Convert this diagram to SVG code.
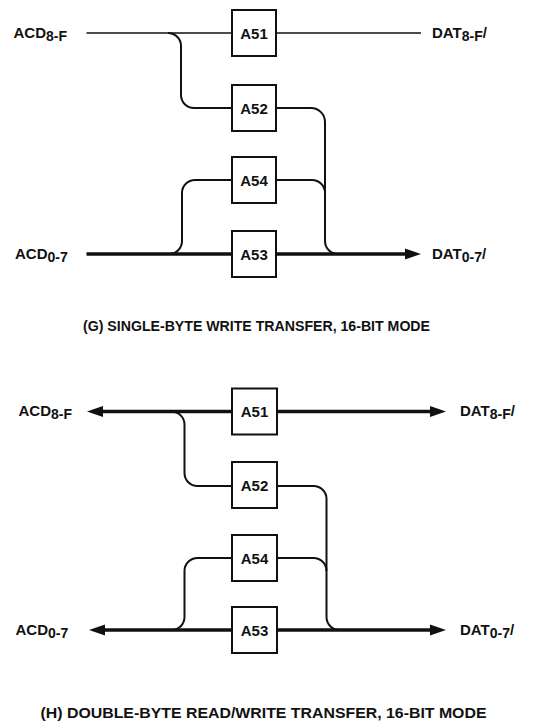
<svg xmlns="http://www.w3.org/2000/svg" width="533" height="722" viewBox="0 0 533 722">
<style>
.bg{fill:#fff}
.box rect{fill:#fff;stroke:#111;stroke-width:2}
.box text,.lbl{font-family:"Liberation Sans",Arial,sans-serif;font-weight:bold;fill:#111}
.box text{font-size:15px;text-anchor:middle}
.lbl{font-size:15px}
.sub{font-size:14px}
.cap{font-family:"Liberation Sans",Arial,sans-serif;font-weight:bold;fill:#111}
.w{fill:none;stroke:#111;stroke-width:2}
.thin{fill:none;stroke:#111;stroke-width:1.6}
.bus{fill:none;stroke:#111;stroke-width:3.5}
.ah{fill:#111}
</style>
<rect class="bg" x="0" y="0" width="533" height="722"/>
<g id="connectors">
  <!-- (G) -->
  <path class="thin" d="M86.5 33 H421"/>
  <path class="w" d="M168 33 A13 13 0 0 1 181 46 V95 A13 13 0 0 0 194 108 H232"/>
  <path class="w" d="M276 108 H311 A14 14 0 0 1 325 122 V241 A13 13 0 0 0 338 254"/>
  <path class="w" d="M169 254 A13 13 0 0 0 182 241 V193 A13 13 0 0 1 195 180 H232"/>
  <path class="w" d="M276 180 H312 A13 13 0 0 1 325 193"/>
  <path class="bus" d="M86.5 254 H407"/>
  <polygon class="ah" points="421,254 405,248.5 405,259.5"/>
  <!-- (H) -->
  <path class="bus" d="M101 411.6 H432"/>
  <polygon class="ah" points="87,411.6 103,406.1 103,417.1"/>
  <polygon class="ah" points="446,411.6 430,406.1 430,417.1"/>
  <path class="w" d="M171.5 411.6 A13 13 0 0 1 184.5 424.6 V473 A13 13 0 0 0 197.5 486 H232"/>
  <path class="w" d="M277 486 H313.5 A13 13 0 0 1 326.5 499 V617 A13 13 0 0 0 339.5 630"/>
  <path class="w" d="M171.5 630 A13 13 0 0 0 184.5 617 V571 A13 13 0 0 1 197.5 558 H232"/>
  <path class="w" d="M277 558 H313.5 A13 13 0 0 1 326.5 571"/>
  <path class="bus" d="M103 630 H432"/>
  <polygon class="ah" points="89,630 105,624.5 105,635.5"/>
  <polygon class="ah" points="446,630 430,624.5 430,635.5"/>
</g>
<g id="g-A51" class="box"><rect x="232" y="10" width="44" height="46"/><text x="254" y="38.5">A51</text></g>
<g id="g-A52" class="box"><rect x="232" y="85" width="44" height="46"/><text x="254" y="113.5">A52</text></g>
<g id="g-A54" class="box"><rect x="232" y="157" width="44" height="46"/><text x="254" y="185.5">A54</text></g>
<g id="g-A53" class="box"><rect x="232" y="231" width="44" height="46"/><text x="254" y="259.5">A53</text></g>
<g id="h-A51" class="box"><rect x="232" y="388.5" width="45" height="46"/><text x="254.5" y="417">A51</text></g>
<g id="h-A52" class="box"><rect x="232" y="462" width="45" height="46"/><text x="254.5" y="490.5">A52</text></g>
<g id="h-A54" class="box"><rect x="232" y="535" width="45" height="46"/><text x="254.5" y="563.5">A54</text></g>
<g id="h-A53" class="box"><rect x="232" y="607" width="45" height="46"/><text x="254.5" y="635.5">A53</text></g>
<g id="labels">
  <text class="lbl" x="13.5" y="37.5">ACD<tspan class="sub" dy="3">8-F</tspan></text>
  <text class="lbl" x="432" y="37.5">DAT<tspan class="sub" dy="3">8-F</tspan><tspan dy="-3">/</tspan></text>
  <text class="lbl" x="15" y="258.5">ACD<tspan class="sub" dy="3">0-7</tspan></text>
  <text class="lbl" x="432" y="258.5">DAT<tspan class="sub" dy="3">0-7</tspan><tspan dy="-3">/</tspan></text>
  <text class="lbl" x="18.5" y="416">ACD<tspan class="sub" dy="3">8-F</tspan></text>
  <text class="lbl" x="460" y="416">DAT<tspan class="sub" dy="3">8-F</tspan><tspan dy="-3">/</tspan></text>
  <text class="lbl" x="15.5" y="635">ACD<tspan class="sub" dy="3">0-7</tspan></text>
  <text class="lbl" x="460" y="635">DAT<tspan class="sub" dy="3">0-7</tspan><tspan dy="-3">/</tspan></text>
  <text class="cap" x="83" y="331" font-size="14" textLength="347" lengthAdjust="spacingAndGlyphs">(G) SINGLE-BYTE WRITE TRANSFER, 16-BIT MODE</text>
  <text class="cap" x="40.5" y="718" font-size="15.5" textLength="446" lengthAdjust="spacingAndGlyphs">(H) DOUBLE-BYTE READ/WRITE TRANSFER, 16-BIT MODE</text>
</g>
</svg>
